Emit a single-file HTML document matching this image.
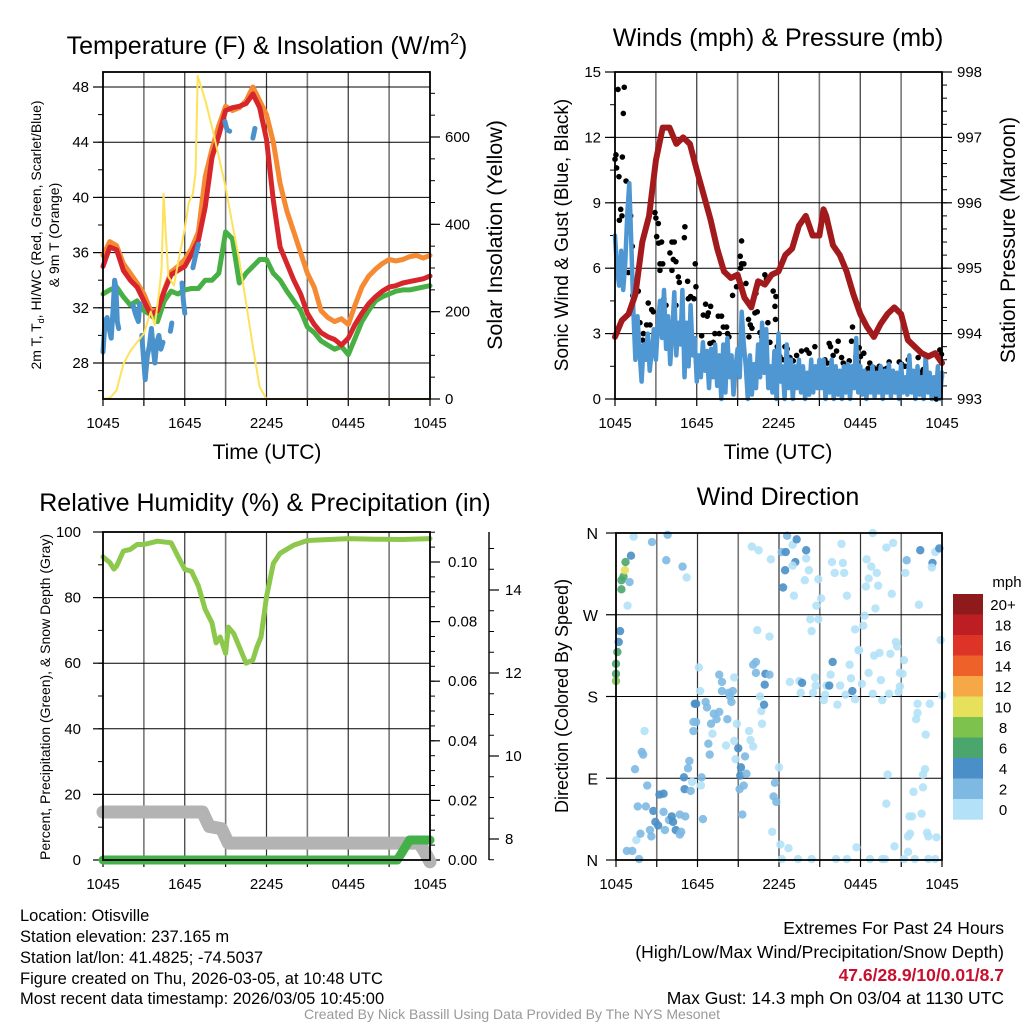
<!DOCTYPE html>
<html><head><meta charset="utf-8"><style>
html,body{margin:0;padding:0;background:#fff}
svg{display:block;font-family:"Liberation Sans",Arial,sans-serif}
</style></head><body>
<svg id="fig" width="1024" height="1024" viewBox="0 0 1024 1024" xmlns="http://www.w3.org/2000/svg">
<rect width="1024" height="1024" fill="#fff"/>
<text x="267" y="54" font-size="25" text-anchor="middle">Temperature (F) &amp; Insolation (W/m<tspan dy="-10" font-size="16">2</tspan><tspan dy="10">)</tspan></text>
<text x="778" y="46" font-size="25" text-anchor="middle">Winds (mph) &amp; Pressure (mb)</text>
<text x="265" y="511" font-size="25" text-anchor="middle">Relative Humidity (%) &amp; Precipitation (in)</text>
<text x="778" y="505" font-size="25" text-anchor="middle">Wind Direction</text>
<text x="267" y="459" font-size="21" text-anchor="middle">Time (UTC)</text>
<text x="778" y="459" font-size="21" text-anchor="middle">Time (UTC)</text>
<text transform="translate(41,235) rotate(-90)" font-size="14" text-anchor="middle">2m T, T<tspan font-size="9" dy="3">d</tspan><tspan dy="-3">, HI/WC (Red, Green, Scarlet/Blue)</tspan></text>
<text transform="translate(59,235) rotate(-90)" font-size="14" text-anchor="middle">&amp; 9m T (Orange)</text>
<text transform="translate(502,235) rotate(-90)" font-size="21.5" text-anchor="middle">Solar Insolation (Yellow)</text>
<text transform="translate(568,235) rotate(-90)" font-size="19" text-anchor="middle">Sonic Wind &amp; Gust (Blue, Black)</text>
<text transform="translate(1015,240) rotate(-90)" font-size="21" text-anchor="middle">Station Pressure (Maroon)</text>
<text transform="translate(50,697) rotate(-90)" font-size="14" text-anchor="middle">Percent, Precipitation (Green), &amp; Snow Depth (Gray)</text>
<text transform="translate(568,696) rotate(-90)" font-size="18" text-anchor="middle">Direction (Colored By Speed)</text>
<g font-size="16.5">
<text x="20" y="921">Location: Otisville</text>
<text x="20" y="942">Station elevation: 237.165 m</text>
<text x="20" y="963">Station lat/lon: 41.4825; -74.5037</text>
<text x="20" y="984">Figure created on Thu, 2026-03-05, at 10:48 UTC</text>
<text x="20" y="1004">Most recent data timestamp: 2026/03/05 10:45:00</text>
</g>
<g font-size="17.5" text-anchor="end">
<text x="1004" y="934">Extremes For Past 24 Hours</text>
<text x="1004" y="958">(High/Low/Max Wind/Precipitation/Snow Depth)</text>
<text x="1004" y="981" fill="#c8102e" font-weight="bold">47.6/28.9/10/0.01/8.7</text>
<text x="1004" y="1004">Max Gust: 14.3 mph On 03/04 at 1130 UTC</text>
</g>
<text x="512" y="1019" font-size="14" fill="#999" text-anchor="middle">Created By Nick Bassill Using Data Provided By The NYS Mesonet</text>
<g id="plots"></g>
</svg>
<script>
// ---------- DATA ----------
const timeLabels = ["1045","1645","2245","0445","1045"];
const tempHours = [0,0.5,1,1.5,2,2.5,3,3.5,4,4.5,5,5.5,6,6.5,7,7.5,8,8.5,9,9.5,10,10.5,11,11.5,12,12.5,13,13.5,14,14.5,15,15.5,16,16.5,17,17.5,18,18.5,19,19.5,20,20.5,21,21.5,22,22.5,23,23.5,24];
const tempRed = [35,36.4,36.2,34.7,34,33.5,32.5,31.5,31.8,33.2,34.4,34.7,35,35.9,36.9,39.3,42.9,44.5,46.3,46.5,46.6,46.8,47.5,46.5,44.2,39.8,36.4,35.2,34,33,31.6,30.8,30.2,29.9,29.7,29.3,29.8,30.8,31.6,32.3,32.8,33.2,33.5,33.6,33.8,33.9,34,34.1,34.3];
const tempOrange = [35.8,36.8,36.5,35.2,34.5,33.8,33,31.8,31.8,33.3,34.6,35,35.5,36.3,37.5,41.5,43.5,45.2,46.6,46.3,46.5,47,48,47,46,44,41,39,37.5,36,34.5,33.5,31.8,31.3,31,31.2,30.8,32.2,33.5,34.3,34.8,35.2,35.5,35.4,35.5,35.7,35.8,35.6,35.8];
const tempGreen = [33,33.3,33.5,32.8,32.2,32.5,31.8,31.5,31,32.5,33.2,33,33.3,33.4,33.4,34,34,34.5,37.5,37,33.8,34.5,35,35.5,35.5,34.5,34,33.2,32.5,31.8,30.6,30.2,29.6,29.3,29,29.2,28.6,29.8,31,31.8,32.5,32.8,33,33.2,33.3,33.3,33.4,33.5,33.6];
const wcHours = [0,0.15,0.3,0.45,0.6,0.75,0.85,0.95,1.05,1.15,null,2.2,2.4,2.6,2.7,null,2.85,3.0,3.1,3.25,3.4,3.55,3.7,3.8,3.95,4.1,4.25,4.4,null,4.95,5.05,null,5.8,5.9,6.0,null,6.6,6.8,7.0,null,8.95,9.1,9.3,null,11.0,11.15];
const wcBlue = [28.8,31,31.3,30.5,29.8,32,34,33.5,31,30.5,null,32.2,31.5,31,32.3,null,30,28,26.8,28.5,29.2,30.5,29,28,29.5,30,29,29.5,null,30.3,30.9,null,33.8,32.5,31.6,null,34.9,35.8,36.6,null,45.5,44.9,44.8,null,44.3,45];
const solarHours = [0,0.5,1,1.5,2,2.5,3,3.5,3.8,4.1,4.3,4.45,4.6,4.8,5.2,5.5,6,6.3,6.6,6.8,6.95,7.5,8,8.5,9,9.5,10,10.5,11,11.5,12,24];
const solarVals = [0,2,20,80,110,130,150,200,170,240,300,470,380,280,260,310,390,450,470,520,740,685,623,555,485,400,318,220,119,27,0,0];
const presHours = [0,0.5,1,1.5,2,2.5,3,3.5,4,4.5,5,5.5,6,7,7.5,8,8.5,9,9.5,10,10.5,11,11.5,12,12.5,13,13.5,14,14.5,15,15.3,15.5,16,16.5,17,17.5,18,18.5,19,19.5,20,20.5,21,21.5,22,22.5,23,23.5,24];
const presVals = [993.95,994.2,994.3,994.6,995.4,995.8,996.65,997.15,997.15,996.9,997,996.9,996.5,995.75,995.3,994.95,994.85,994.9,994.55,994.4,994.8,994.75,994.9,994.95,995.2,995.3,995.65,995.8,995.5,995.5,995.9,995.8,995.35,995.2,994.95,994.6,994.3,994.1,993.95,994.15,994.3,994.4,994.3,993.9,993.8,993.7,993.65,993.7,993.55];
const windStep = 0.15;
const windVals = [7.5,6.0,5.2,6.8,5.0,6.2,8.5,9.9,7.0,4.0,1.8,3.8,2.2,0.8,2.5,1.8,3.0,1.3,2.2,3.2,1.8,3.4,4.5,2.8,5.0,2.3,3.8,1.6,3.0,4.9,2.0,3.5,2.5,5.0,1.0,3.5,1.5,4.3,2.0,2.8,0.8,2.0,1.0,2.6,1.3,2.2,0.5,2.3,1.0,2.5,0.6,2.0,0.0,2.5,0.3,2.8,1.0,2.0,0.2,1.5,2.3,1.0,4.0,2.5,1.5,0.0,2.0,0.2,1.6,0.5,2.5,1.0,3.5,1.2,3.2,0.5,1.5,0.3,2.2,0.0,3.0,0.8,1.5,0.0,2.5,0.5,1.8,0.0,1.5,0.5,1.8,0.3,1.5,0.0,1.2,0.2,1.8,0.3,1.5,0.5,1.8,0.5,1.8,0.0,1.4,0.3,1.8,0.0,1.5,0.2,1.3,0.0,1.5,0.3,1.6,0.0,1.5,0.5,2.8,0.3,1.5,0.2,1.3,0.0,1.2,0.3,1.5,0.1,1.2,0.3,1.5,0.0,1.3,0.3,1.6,0.1,1.3,0.3,1.2,0.0,1.6,0.3,1.0,0.2,2.0,0.3,1.3,0.0,1.5,0.2,1.0,0.0,2.0,0.3,1.2,0.0,1.0,0.2,1.5,0.0,1.2,1.0];
const gustHours = [0,0.07,0.22,0.68,0.61,0.54,0.12,0.29,0.81,0.42,0.32,0.51,1.15,1.27,0.98,1.3,1.71,1.83,1.59,2.03,2.08,2.32,2.44,2.57,2.69,2.81,2.93,3.0,3.18,3.06,3.2,3.42,3.3,3.5,3.3,3.59,3.74,4.03,4.18,4.35,4.18,4.28,4.47,4.47,4.65,4.72,5.09,5.13,5.33,5.38,5.55,5.79,5.89,5.94,5.55,5.62,5.75,6.36,6.48,6.65,6.85,7.02,6.77,6.97,7.21,7.33,7.58,7.82,7.65,7.95,8.19,8.26,8.36,8.63,8.92,9.07,9.19,9.29,9.29,9.46,9.22,9.61,9.8,9.93,10.05,9.83,10.27,10.34,10.44,10.64,10.76,11.0,11.12,11.22,11.37,11.61,11.74,11.78,11.81,11.91,12.1,12.3,12.47,12.64,12.84,13.08,13.33,13.69,14.06,14.25,14.67,15.04,15.23,15.4,15.57,15.72,15.82,16.01,16.26,16.38,16.63,16.75,16.99,17.19,17.36,17.43,17.68,17.78,17.92,18.02,18.26,18.41,18.58,18.7,18.95,19.14,19.24,19.39,19.56,19.73,19.93,20.12,20.29,20.46,20.66,20.86,21.03,21.27,21.39,21.52,21.76,22.0,22.25,22.42,22.62,22.81,23.06,23.23,23.47,23.59,23.72,23.84,23.96];
const gustVals = [11.0,11.2,14.2,14.3,13.1,11.1,10.6,10.2,10.0,8.7,8.2,8.4,8.4,7.0,5.8,4.75,4.95,3.5,3.05,2.7,3.0,3.4,4.4,3.4,4.1,4.0,8.55,8.3,8.05,7.45,7.15,7.2,6.2,6.2,5.9,4.6,4.3,6.7,7.2,7.2,5.9,6.4,6.3,4.3,5.6,5.35,7.4,7.9,5.4,4.6,4.7,4.6,6.2,5.15,3.55,2.55,2.65,2.9,3.85,4.35,3.95,4.25,3.8,2.55,2.6,3.0,3.8,3.8,3.0,3.3,3.3,3.0,2.85,4.75,5.15,5.5,6.55,7.25,6.2,6.2,6.0,5.3,3.65,3.4,3.25,2.85,3.95,4.85,4.0,3.05,2.85,5.7,5.5,3.5,2.6,4.95,4.25,3.65,4.7,2.4,1.95,1.8,2.4,2.3,1.9,1.75,2.0,2.2,2.25,2.1,2.4,1.5,1.65,1.8,1.65,2.55,2.4,2.0,2.2,2.65,1.9,1.65,1.55,1.75,2.65,3.3,1.95,1.7,2.35,1.95,2.1,1.2,1.4,1.65,1.45,1.35,1.2,1.5,1.15,1.35,1.4,1.7,1.2,1.05,0.9,1.7,1.6,1.5,2.95,1.8,1.05,1.2,1.9,1.2,1.35,1.5,1.1,0.4,0.05,0,0.9,2.25,2.05];
const rhHours = [0,0.5,0.8,1,1.5,2,2.5,3,4,5,5.5,6,6.5,7,7.5,8,8.3,8.6,9,9.2,9.6,10,10.5,11,11.3,11.6,12,12.5,13,14,15,16,18,20,22,24];
const rhVals = [92.4,90.7,88.7,89.6,94.2,94.7,96.2,96.2,97.2,96.7,92.6,88.6,88,83.5,76.4,72.3,66.2,68,63,71,69,65,60,61,65,68,80.2,90.4,93.5,96,97.4,97.6,98,97.8,97.7,98];
const snowHours = [0,7.3,7.8,8.7,9.2,23.2,23.6,24];
const snowVals = [8.65,8.65,8.3,8.25,7.9,7.9,7.7,7.45];
const precipHours = [0,21.6,22.0,22.5,24];
const precipVals = [0,0,0.003,0.0067,0.0067];
const dirHours = [0,0,0,0.1,0.2,0.3,0.4,0.4,0.55,0.65,0.7,1.1,1.0,0.85,1.3,2.65,3.8,3.7,4.9,5.2,2.1,1.9,2,1.4,2.3,1.6,2.2,1.5,1.8,0.8,1.2,1.7,2.75,2.9,3.1,2.5,2.6,3.2,3.5,3.5,3.9,4.1,4.2,4.4,4.7,4.8,4.7,5.1,3.6,5,5.05,5.5,5.6,5.3,5.4,5.7,5.8,5.9,5.7,5.9,6.1,6.2,6.3,6.25,6.4,6.6,6.7,6.8,6.9,7.1,7,7.2,7.4,7.6,7.6,7.8,7.8,8.2,8.1,8.3,8.4,8.5,8.6,8.7,8.9,8.7,8.8,9,9.2,9.15,9.1,9.4,9.6,9.5,9.3,9.8,9.9,10.1,10.1,10.3,10.3,10.4,10.6,10.7,10.75,10.9,10.95,11,11.3,11.3,11.7,11.6,11.8,12,11.5,12.1,12.7,12.2,13.4,14.4,10,10.5,11.4,12.2,12.6,12.5,12.45,13,13.3,13.2,13,14,14,14.2,12.3,13.1,13.9,14.9,15.1,14.75,14.3,14.9,14.4,15.9,16.1,16.6,16.7,16.8,17,17.6,17.85,18.2,18.3,18.45,18.8,18.4,18.6,18.9,19.2,19.3,19.1,19.9,20.4,20.3,21.4,21.3,22.3,22.4,23.3,23.25,23.5,23.8,23.9,12.8,13.5,13.7,13.6,14.5,14.65,14.7,15.3,15.4,15.5,15.8,15.7,15.95,16.3,16.5,16.9,17.2,17.3,17.4,17.6,17.9,18.1,18.6,19,19.4,18.9,19.5,19.6,20.2,20.1,20.6,20.7,20.9,21.1,21.2,20.9,20.8,24,22.2,23.1,22.2,22.1,22.8,20,22.75,22.6,22.6,21.9,19.9,22.5,21.6,21.8,21.65,21.5,22.9,23,23.6,20.5,21.5,17.7,16.2,17,18.7,19.6,19.8,21.2,22,23,23.5];
const dirDeg = [197,205,216,229,240,252,298,308,312,319,328,335,306,280,356,350,358,330,323,311,142,119,116,100,82,59,59,22,29,10,10,1,54,42,38,33,26,72,73,53,44,48,42,33,28,31,50,48,33,91,78,76,86,101,109,142,172,172,152,152,212,186,91,82,45,174,168,128,116,139,150,161,155,163,204,196,186,155,126,184,180,174,186,201,150,131,111,123,102,93,78,82,95,114,50,142,132,125,215,218,206,253,180,164,150,171,193,205,204,246,85,70,64,102,31,17,13,1,1,1,345,341,331,339,357,339,319,347,353,328,324,341,332,319,300,291,308,309,288,280,265,265,252,328,316,348,327,316,291,254,231,258,269,331,323,301,310,360,316,302,277,344,349,293,330,316,281,341,327,322,339,343,242,196,197,195,184,184,201,192,176,182,192,204,192,218,171,192,182,215,200,186,177,231,194,206,225,228,183,198,176,227,183,240,235,206,205,220,191,185,181,172,172,162,155,138,94,100,94,80,75,62,51,48,48,29,26,30,26,25,15,9,14,1,1,1,1,1,1,1,1,1,1];
const dirSpeed = [8,6,6,6,4,4,6,6,6,10,6,4,2,1,1,2,2,2,2,1,1,2,2,2,2,2,2,1,2,2,2,2,4,4,4,2,2,4,4,2,2,4,4,4,2,2,2,2,2,4,4,2,1,2,2,2,4,4,2,2,1,1,2,1,2,2,2,2,2,1,2,2,2,2,2,2,2,2,1,2,2,2,2,1,1,1,1,4,4,4,2,2,2,2,2,1,1,1,2,2,2,1,1,1,1,4,4,4,2,1,2,2,2,1,1,1,1,1,1,1,1,1,1,2,2,4,4,1,4,4,1,4,1,1,4,1,1,1,1,1,1,1,1,1,1,1,1,1,1,1,1,1,1,1,1,1,1,1,1,1,1,1,1,1,2,1,1,4,4,1,1,4,1,1,1,4,1,1,1,1,1,1,1,1,4,4,1,1,1,1,1,4,1,1,1,1,1,1,1,1,1,1,1,1,1,1,1,1,1,1,1,1,1,1,1,1,1,1,1,1,1,1,1,1,1,1,1,1,1,1,1,1,1,1,1,1,1,1,1,1,1,1,1,1,1];
const cbarLabels = ["20+","18","16","14","12","10","8","6","4","2","0"];
const cbarColors = ["#8e1a1c","#bd1e24","#dd3427","#ee6229","#f5a845","#e6e05a","#7cc24c","#4aa66c","#4a8fc7","#7db9e3","#b3e1f7"];

// ---------- HELPERS ----------
const NS="http://www.w3.org/2000/svg";
const root=document.getElementById('plots');
function mk(tag,attrs,parent){const e=document.createElementNS(NS,tag);for(const k in attrs)e.setAttribute(k,attrs[k]);(parent||root).appendChild(e);return e;}
function txt(x,y,s,size,anchor,parent){const t=mk('text',{x:x,y:y,'font-size':size,'text-anchor':anchor||'middle'},parent);t.textContent=s;return t;}
function timeX(p,h){return p.x0+h*(p.x1-p.x0)/24;}
function pathFrom(hs,vs,fx,fy){let d='',pen=false;for(let i=0;i<hs.length;i++){if(hs[i]===null||vs[i]===null){pen=false;continue;}d+=(pen?'L':'M')+fx(hs[i]).toFixed(1)+','+fy(vs[i]).toFixed(1);pen=true;}return d;}

const P1={x0:103,x1:430,y0:72,y1:399};
const P2={x0:615,x1:942,y0:72,y1:399};
const P3={x0:103,x1:430,y0:532,y1:860};
const P4={x0:616,x1:942,y0:533,y1:860};
const tempY=v=>87+(48-v)*13.8;
const solarY=v=>399-v*262/600;
const windY=v=>399-v*21.8;
const presY=p=>399-(p-993)*65.4;
const pctY=v=>860-v*3.28;
const precipY=v=>860-v*2980;
const snowY=s=>839-(s-8)*41.5;
const dirY=d=>860-d*327/360;

function frame(p,name,hvals,hy){
  const g=mk('g',{});
  
  
  for(let k=1;k<8;k++){const x=timeX(p,k*3);mk('line',{x1:x,x2:x,y1:p.y0,y2:p.y1,stroke:k%2==0?'#333':'#777','stroke-width':k%2==0?1.2:1.6},g);}
  hvals.forEach(v=>{const y=hy(v);mk('line',{x1:p.x0,x2:p.x1,y1:y,y2:y,stroke:'#000','stroke-width':1},g);});
  for(let k=0;k<=8;k++){const x=timeX(p,k*3);mk('line',{x1:x,x2:x,y1:p.y1,y2:p.y1+7,stroke:'#000','stroke-width':1.2},g);}
  timeLabels.forEach((s,i)=>{const t=txt(timeX(p,i*6),p.y1+29,s,15,'middle',g);});
  return g;
}
function border(p,name){const r=mk('rect',{x:p.x0,y:p.y0,width:p.x1-p.x0,height:p.y1-p.y0,fill:'none',stroke:'#000','stroke-width':1.8});}
function yAxis(x,dir,major,minor,fy,fmt,name,lx){
  const g=mk('g',{});
  
  
  minor.forEach(v=>mk('line',{x1:x,x2:x+dir*5,y1:fy(v),y2:fy(v),stroke:'#000','stroke-width':1},g));
  major.forEach(v=>{mk('line',{x1:x,x2:x+dir*10,y1:fy(v),y2:fy(v),stroke:'#000','stroke-width':1.2},g);txt(lx,fy(v)+5,fmt(v),15,dir<0?'end':'start',g);});
}
function rng(a,b,s){const r=[];for(let v=a;v<=b+1e-9;v+=s)r.push(+v.toFixed(4));return r;}

// ---------- PANEL 1: Temperature ----------
frame(P1,'temperature',[28,32,36,40,44,48],tempY);
yAxis(P1.x0,-1,[28,32,36,40,44,48],rng(26,48,2),tempY,v=>v,'temperature-y-axis',P1.x0-14);
yAxis(P1.x1,1,[0,200,400,600],rng(0,700,50),solarY,v=>v,'solar-y-axis',P1.x1+15);
const tx=h=>timeX(P1,h);
let e;
e=mk('path',{d:pathFrom(tempHours,tempOrange,tx,tempY),fill:'none',stroke:'#f58a33','stroke-width':5,'stroke-linejoin':'round','stroke-linecap':'round'});


e=mk('path',{d:pathFrom(tempHours,tempGreen,tx,tempY),fill:'none',stroke:'#46b045','stroke-width':5,'stroke-linejoin':'round','stroke-linecap':'round'});


e=mk('path',{d:pathFrom(tempHours,tempRed,tx,tempY),fill:'none',stroke:'#d7262b','stroke-width':5,'stroke-linejoin':'round','stroke-linecap':'round'});


e=mk('path',{d:pathFrom(wcHours,wcBlue,tx,tempY),fill:'none',stroke:'#4a92cc','stroke-width':5,'stroke-linejoin':'round','stroke-linecap':'round'});


e=mk('path',{d:pathFrom(solarHours,solarVals,tx,solarY),fill:'none',stroke:'#fde25a','stroke-width':2,'stroke-linejoin':'round'});


border(P1,'temperature');

// ---------- PANEL 2: Winds ----------
frame(P2,'winds',[3,6,9,12],windY);
yAxis(P2.x0,-1,[0,3,6,9,12,15],rng(0,15,1.5),windY,v=>v,'wind-y-axis',P2.x0-14);
yAxis(P2.x1,1,[993,994,995,996,997,998],rng(993,998,0.2),presY,v=>v,'pressure-y-axis',P2.x1+15);
const wx=h=>timeX(P2,h);
const windHours=windVals.map((v,i)=>Math.min(24,i*windStep));
gustHours.forEach((h,i)=>{const c=mk('circle',{cx:wx(h),cy:windY(gustVals[i]),r:2.8,fill:'#000'});

});
e=mk('path',{d:pathFrom(windHours,windVals,wx,windY),fill:'none',stroke:'#4f97d2','stroke-width':4.5,'stroke-linejoin':'round','stroke-linecap':'round'});


e=mk('path',{d:pathFrom(presHours,presVals,wx,presY),fill:'none',stroke:'#a31a1d','stroke-width':6,'stroke-linejoin':'round','stroke-linecap':'round'});


border(P2,'winds');

// ---------- PANEL 3: RH ----------
frame(P3,'humidity',[20,40,60,80],pctY);
yAxis(P3.x0,-1,[0,20,40,60,80,100],rng(0,100,10),pctY,v=>v,'percent-y-axis',P3.x0-22);
yAxis(P3.x1,1,[0,0.02,0.04,0.06,0.08,0.10],rng(0,0.11,0.005),precipY,v=>v.toFixed(2),'precip-y-axis',P3.x1+18);
mk('line',{x1:489,x2:489,y1:P3.y0,y2:P3.y1,stroke:'#000','stroke-width':1.4});
yAxis(489,1,[8,10,12,14],rng(7.5,15,0.5),snowY,v=>v,'snow-depth-y-axis',505);
const rx=h=>timeX(P3,h);
e=mk('path',{d:pathFrom(snowHours,snowVals,rx,snowY),fill:'none',stroke:'#b3b3b3','stroke-width':13,'stroke-linejoin':'round','stroke-linecap':'round'});


e=mk('path',{d:pathFrom(precipHours,precipVals,rx,precipY),fill:'none',stroke:'#44b048','stroke-width':9,'stroke-linejoin':'round','stroke-linecap':'round'});


e=mk('path',{d:pathFrom(rhHours,rhVals,rx,pctY),fill:'none',stroke:'#8cc84b','stroke-width':5,'stroke-linejoin':'round','stroke-linecap':'round'});


border(P3,'humidity');

// ---------- PANEL 4: Direction ----------
frame(P4,'direction',[90,180,270],dirY);
const dl=['N','E','S','W','N'];
dl.forEach((s,i)=>{const y=dirY(i*90);mk('line',{x1:P4.x0-10,x2:P4.x0,y1:y,y2:y,stroke:'#000','stroke-width':1.2});
const t=txt(P4.x0-18,y+6,s,16,'end');

});
const dx=h=>timeX(P4,h);
dirHours.forEach((h,i)=>{const bin=Math.min(10,Math.floor(dirSpeed[i]/2));const c=mk('circle',{cx:dx(h),cy:dirY(dirDeg[i]),r:4.2,fill:cbarColors[10-bin],'fill-opacity':0.9});

});
border(P4,'direction');
const cb=mk('g',{});


txt(1007,587,'mph',15,'middle',cb);
cbarLabels.forEach((s,i)=>{const y=594+i*20.5;mk('rect',{x:953,y:y,width:30,height:20.7,fill:cbarColors[i]},cb);txt(1003,y+16,s,15,'middle',cb);});
</script>
</body></html>
